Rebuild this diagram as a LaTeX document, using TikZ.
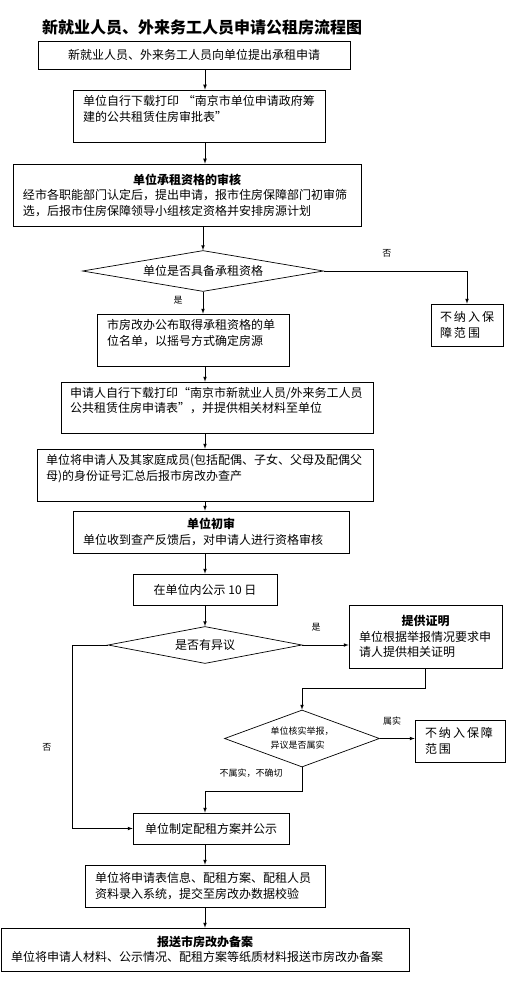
\documentclass[tikz,border=0pt]{standalone}
\usepackage{fontspec}
\setmainfont{Noto Sans CJK SC}
\usetikzlibrary{shapes.geometric}

\tikzset{
  box/.style={draw, line width=0.7pt, inner xsep=10pt, inner ysep=2pt, align=left,
    font=\fontsize{12}{15.5}\selectfont},
  cbox/.style={box, align=center},
  ask/.style={draw, diamond, line width=0.7pt, inner sep=0pt, align=center,
    font=\fontsize{12}{15.5}\selectfont},
  note/.style={inner sep=1pt, font=\fontsize{9}{11}\selectfont},
  arr/.style={-latex, line width=0.7pt},
}

\begin{document}
\begin{tikzpicture}[x=1pt, y=-1pt]
\useasboundingbox (0,0) rectangle (512,987);
\coordinate (spine) at (205,0);

\node (title) at (202,27) {\fontsize{16}{19}\selectfont\bfseries 新就业人员、外来务工人员申请公租房流程图};

% main column
\node[cbox, minimum width=312pt, minimum height=28pt] (apply) at (194,55) {新就业人员、外来务工人员向单位提出承租申请};
\node[box, text width=232pt, minimum height=52pt] (form) at (199,116) {单位自行下载打印 “南京市单位申请政府筹\\建的公共租赁住房审批表”\\ \mbox{}};
\node[box, text width=328pt, minimum height=62pt] (check) at (187,195) {\makebox[\linewidth]{\bfseries 单位承租资格的审核}\\经市各职能部门认定后，提出申请，报市住房保障部门初审筛\\选，后报市住房保障领导小组核定资格并安排房源计划};
\node[ask, aspect=5.9, minimum width=241pt, minimum height=41pt] (qual) at (203,271) {单位是否具备承租资格};
\node[box, inner xsep=9pt, text width=54pt, minimum height=42pt] (outA) at (467,325) {不\,纳\,入\,保\\障\,范\,围};
\node[box, text width=172pt, minimum height=52pt] (lottery) at (193,340) {市房改办公布取得承租资格的单\\位名单，以摇号方式确定房源\\ \mbox{}};
\node[box, inner xsep=9pt, text width=294pt, minimum height=51pt] (submit) at (217,407.5) {申请人自行下载打印“南京市新就业人员/外来务工人员\\公共租赁住房申请表”，并提供相关材料至单位\\ \mbox{}};
\node[box, inner xsep=9pt, text width=318pt, minimum height=52pt] (idnum) at (205,475) {单位将申请人及其家庭成员(包括配偶、子女、父母及配偶父\\母)的身份证号汇总后报市房改办查产\\ \mbox{}};
\node[box, text width=256pt, minimum height=42pt] (first) at (211,532) {\makebox[\linewidth]{\bfseries 单位初审}\\单位收到查产反馈后，对申请人进行资格审核};
\node[cbox, minimum width=144pt, minimum height=31pt] (publish) at (205,589.5) {在单位内公示 10 日};
\node[ask, aspect=5.2, minimum width=194pt, minimum height=37pt] (doubt) at (205,645) {是否有异议};

% objection branch
\node[box, text width=133pt, minimum height=63pt] (proof) at (425.5,636.5) {\makebox[\linewidth]{\bfseries 提供证明}\\单位根据举报情况要求申\\请人提供相关证明};
\node[ask, aspect=2.7, minimum width=155pt, minimum height=57pt, align=left,
  font=\fontsize{9}{14}\selectfont] (verify) at (302,738.5) {单位核实举报，\\异议是否属实};
\node[box, text width=70pt, minimum height=42pt] (outB) at (460,741) {不\,纳\,入\,保\,障\\范\,围};

\node[cbox, minimum width=156pt, minimum height=31pt] (plan) at (211,828.5) {单位制定配租方案并公示};
\node[box, text width=220pt, minimum height=42pt] (enter) at (205,886) {单位将申请表信息、配租方案、配租人员\\资料录入系统，提交至房改办数据校验};
\node[box, text width=388pt, minimum height=43pt] (file) at (205,949.5) {\makebox[\linewidth]{\bfseries 报送市房改办备案}\\单位将申请人材料、公示情况、配租方案等纸质材料报送市房改办备案};

% connectors
\draw[arr] (apply.south -| spine) -- (form.north -| spine);
\draw[arr] (form.south -| spine) -- (check.north -| spine);
\draw[arr] (check.south -| qual) -- (qual.north);
\draw[arr] (qual.east) -| node[note, pos=0.22, above=12pt]{否} (outA.north);
\draw[arr] (qual.south) -- node[note, pos=0.4, left=19pt]{是} (qual.south |- lottery.north);
\draw[arr] (lottery.south -| spine) -- (submit.north -| spine);
\draw[arr] (submit.south -| spine) -- (idnum.north -| spine);
\draw[arr] (idnum.south -| spine) -- (first.north -| spine);
\draw[arr] (first.south -| spine) -- (publish.north -| spine);
\draw[arr] (publish.south) -- (doubt.north);
\draw[arr] (doubt.east) -- node[note, pos=0.3, above=12pt]{是} (doubt.east -| proof.west);
\draw[arr] (doubt.west) -- ++(-35,0) |- node[note, pos=0.28, left=20pt]{否} (plan.west);
\draw[arr] (proof.south) -- ++(0,20) -| (verify.north);
\draw[arr] (verify.east) -- node[note, pos=0.35, above=12pt]{属实} (verify.east -| outB.west);
\draw[arr] (verify.south) -- node[note, pos=0.25, left=18pt]{不属实，不确切} ++(0,24) -| (plan.north -| spine);
\draw[arr] (plan.south -| spine) -- (enter.north -| spine);
\draw[arr] (enter.south -| spine) -- (file.north -| spine);

\end{tikzpicture}
\end{document}
